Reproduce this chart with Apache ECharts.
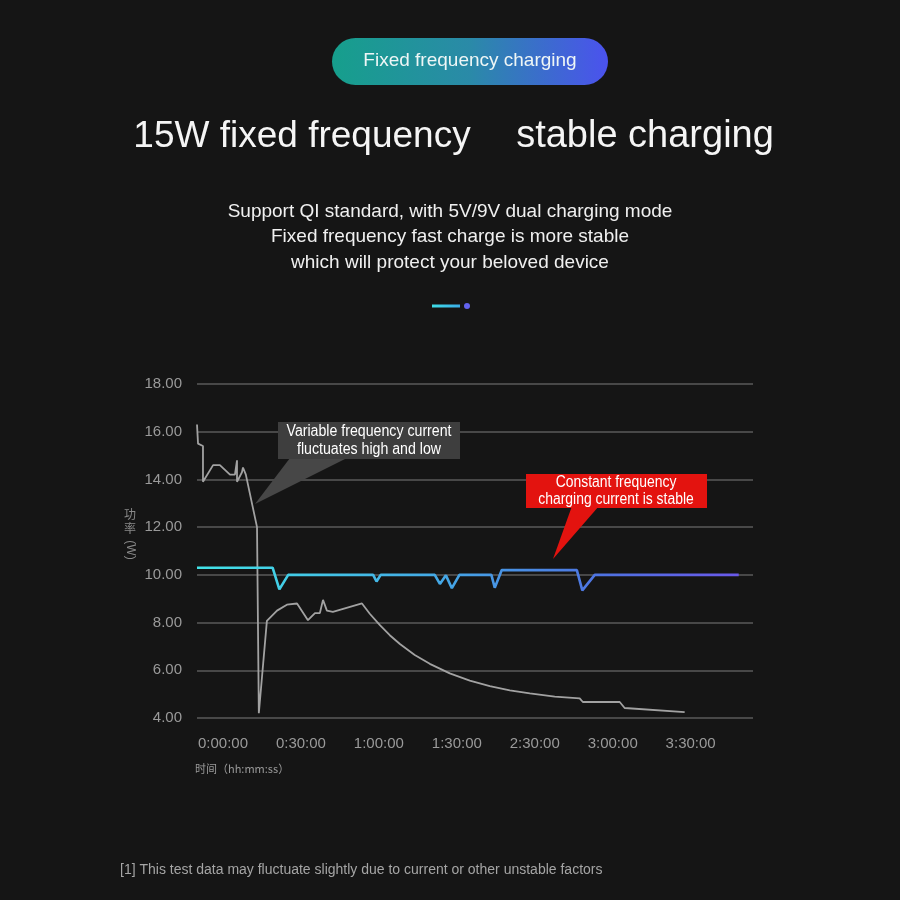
<!DOCTYPE html>
<html>
<head>
<meta charset="utf-8">
<script src="https://cdn.jsdelivr.net/npm/echarts@6/dist/echarts.min.js"></script>
<style>
html,body{margin:0;padding:0;background:#151515;}
#c{width:900px;height:900px;}
</style>
</head>
<body>
<div id="c"></div>
<script>
// ---- data (x in minutes on the axis scale, y in W) ----
const tickLabels = ['0:00:00','0:30:00','1:00:00','1:30:00','2:30:00','3:00:00','3:30:00'];
const tickPositions = [0,30,60,90,120,150,180];

const variableTime  = [-10,-9.6,-7.7,-7.7,-3.8,-1.2,2.7,4.6,5.4,5.4,7.3,7.7,8.8,13.1,13.8,16.9,20.8,24.6,28.5,32.7,35.4,37.3,38.5,40.0,42.3,53.5,56.5,60.4,64.2,68.1,73.8,79.6,87.3,95.0,102.7,110.4,118.1,127.7,137.3,138.5,152.7,154.6,177.7];
const variablePower = [16.3,15.5,15.4,13.9,14.6,14.6,14.2,14.2,14.8,13.9,14.3,14.5,14.2,12.0,4.2,8.07,8.5,8.75,8.8,8.1,8.4,8.4,8.95,8.5,8.45,8.8,8.37,7.89,7.47,7.10,6.64,6.27,5.87,5.57,5.34,5.16,5.03,4.90,4.82,4.67,4.67,4.42,4.25];

const constantTime  = [-10,19.1,21.7,25.1,57.8,59.1,60.7,81.5,83.5,85.8,88.1,91.0,103.3,104.6,107.3,136.2,138.3,143.1,198.5];
const constantPower = [10.3,10.3,9.39,10.0,10.0,9.72,10.0,10.0,9.62,9.98,9.44,10.0,10.0,9.46,10.2,10.2,9.35,10.0,10.0];

const variableData = variableTime.map((t,i)=>[t, variablePower[i]]);
const constantData = constantTime.map((t,i)=>[t, constantPower[i]]);

const SANS = '"Liberation Sans", Arial, Helvetica, sans-serif';

const chart = echarts.init(document.getElementById('c'), null, {renderer:'canvas'});
const G = echarts.graphic;

const option = {
  backgroundColor: '#151515',
  animation: false,
  title: [
    { text: '15W fixed frequency', left: 297, top: 113, textAlign: 'center',
      textStyle: { color: '#f5f5f5', fontSize: 37, fontWeight: 'normal', fontFamily: SANS } },
    { text: 'stable charging', left: 640, top: 113, textAlign: 'center',
      textStyle: { color: '#f5f5f5', fontSize: 38, fontWeight: 'normal', fontFamily: SANS } },
    { text: 'Support QI standard, with 5V/9V dual charging mode\nFixed frequency fast charge is more stable\nwhich will protect your beloved device',
      left: 445, top: 194, textAlign: 'center',
      textStyle: { color: '#f0f0f0', fontSize: 19, lineHeight: 25.5, fontWeight: 'normal', fontFamily: SANS, align: 'center' } },
    { text: '[1] This test data may fluctuate slightly due to current or other unstable factors',
      left: 115, top: 858,
      textStyle: { color: '#a5a5a5', fontSize: 14, fontWeight: 'normal', fontFamily: SANS } }
  ],
  grid: { left: 197, right: 147, top: 384, bottom: 182 },
  xAxis: {
    type: 'value', min: -10, max: 204,
    name: '时间（hh:mm:ss）', nameLocation: 'start', nameGap: 2,
    nameTextStyle: { color: '#9a9a9a', fontSize: 11, align: 'left', verticalAlign: 'top',
      padding: [45, 0, 0, 0], fontFamily: '"Noto Sans CJK SC", sans-serif' },
    axisLine: { show: false }, axisTick: { show: false }, splitLine: { show: false },
    axisLabel: { customValues: tickPositions, color: '#9a9a9a', fontSize: 15, margin: 18, fontFamily: SANS,
      formatter: v => { const i = tickPositions.indexOf(Math.round(v)); return i >= 0 ? tickLabels[i] : ''; } }
  },
  yAxis: {
    type: 'value', min: 4, max: 18, interval: 2,
    axisLine: { show: false }, axisTick: { show: false },
    splitLine: { show: true, lineStyle: { color: '#5a5a5a', width: 1.5 } },
    axisLabel: { color: '#9a9a9a', fontSize: 15, margin: 15, fontFamily: SANS,
      formatter: v => v.toFixed(2) }
  },
  series: [
    { name: 'Variable frequency', type: 'line', data: variableData, symbol: 'none',
      lineStyle: { color: '#a2a2a2', width: 1.8 }, z: 3 },
    { name: 'Constant frequency', type: 'line', data: constantData, symbol: 'none',
      lineStyle: { width: 2.6, color: new G.LinearGradient(0,0,1,0,[
        {offset:0,color:'#42e4e8'},{offset:0.45,color:'#44a8e6'},{offset:0.75,color:'#4f72e2'},{offset:1,color:'#6a58ea'}]) }, z: 4 }
  ],
  graphic: [
    { type: 'rect', shape: { x: 332, y: 38, width: 276, height: 47, r: 23.5 },
      style: { fill: new G.LinearGradient(0,0,1,0,[{offset:0,color:'#169f8c'},{offset:0.5,color:'#2a8aa8'},{offset:1,color:'#4b52ee'}]) } },
    { type: 'text', x: 470, y: 61, style: { text: 'Fixed frequency charging', fill: '#eef6f6',
      font: '19px ' + SANS, textAlign: 'center', textVerticalAlign: 'middle', align: 'center', verticalAlign: 'middle' } },
    { type: 'line', shape: { x1: 432, y1: 306, x2: 460, y2: 306 },
      style: { stroke: new G.LinearGradient(0,0,1,0,[{offset:0,color:'#3fe2e6'},{offset:1,color:'#3aa8e8'}]), lineWidth: 3 } },
    { type: 'circle', shape: { cx: 467, cy: 306, r: 3 }, style: { fill: '#6262ee' } },

    // y axis name
    { type: 'text', x: 130, y: 521, style: { text: '功\n率', fill: '#8a8a8a', font: '12px "Noto Sans CJK SC", sans-serif',
      lineHeight: 14, textAlign: 'center', textVerticalAlign: 'middle', align: 'center', verticalAlign: 'middle' } },
    { type: 'text', x: 130, y: 550, rotation: -Math.PI / 2, style: { text: '(W)', fill: '#8a8a8a', font: '12px ' + SANS,
      textAlign: 'center', textVerticalAlign: 'middle', align: 'center', verticalAlign: 'middle' } },

    // callout: variable frequency
    { type: 'polygon', z: 100, shape: { points: [[290,458],[347,458],[255,504]] }, style: { fill: '#474747' } },
    { type: 'rect', z: 100, shape: { x: 278, y: 422, width: 182, height: 37 }, style: { fill: '#3e3e3e' } },
    { type: 'text', z: 101, x: 369, y: 441, scaleX: 0.885, style: { text: 'Variable frequency current\nfluctuates high and low', fill: '#ffffff',
      font: '16px ' + SANS, lineHeight: 18, textAlign: 'center', textVerticalAlign: 'middle', align: 'center', verticalAlign: 'middle' } },

    // callout: constant frequency
    { type: 'polygon', z: 100, shape: { points: [[572,506],[599,506],[553,559]] }, style: { fill: '#e3130f' } },
    { type: 'rect', z: 100, shape: { x: 526, y: 474, width: 181, height: 34 }, style: { fill: '#e3130f' } },
    { type: 'text', z: 101, x: 616, y: 491, scaleX: 0.87, style: { text: 'Constant frequency\ncharging current is stable', fill: '#ffffff',
      font: '16px ' + SANS, lineHeight: 17, textAlign: 'center', textVerticalAlign: 'middle', align: 'center', verticalAlign: 'middle' } }
  ]
};
chart.setOption(option);
</script>
</body>
</html>
